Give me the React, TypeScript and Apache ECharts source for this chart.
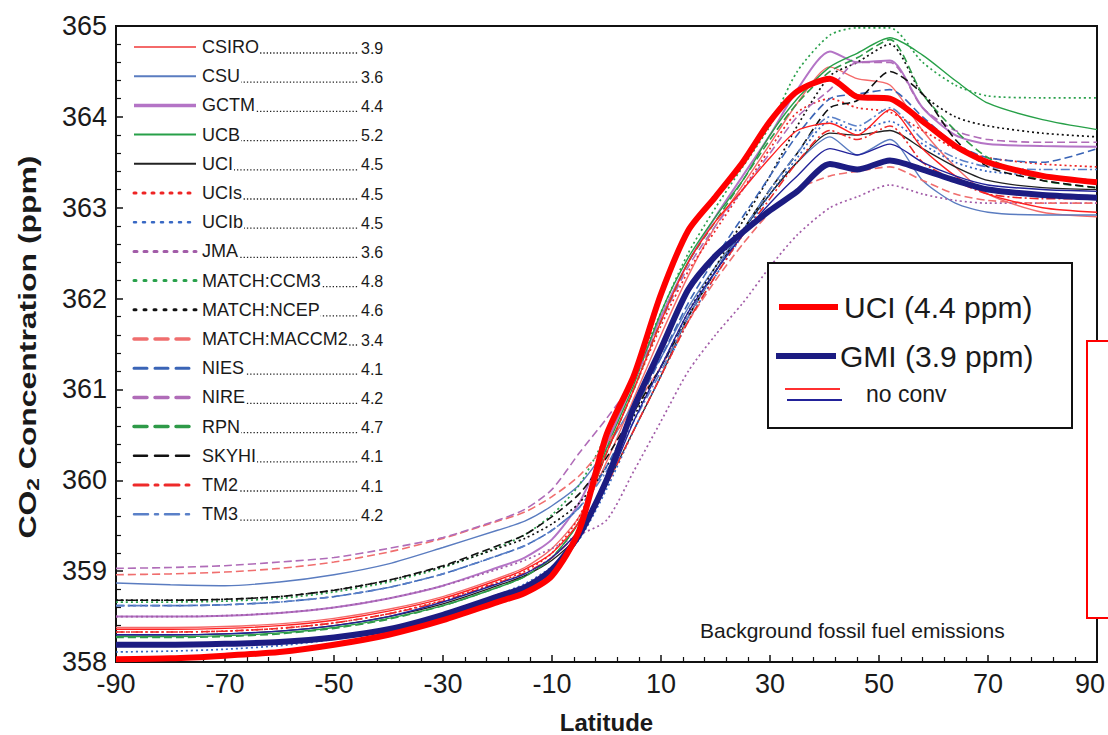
import React, { useEffect, useRef } from "react";
import * as echarts from "echarts";

// Latitude grid (degrees)
const lats = [-90, -80, -70, -60, -50, -40, -30, -20, -15, -10, -5, 0, 5, 10, 15, 20, 25, 30, 35, 41, 46, 52, 58, 64, 70, 80, 90];

// CO2 concentration (ppm) per model
const csiro = [358.38, 358.38, 358.39, 358.42, 358.48, 358.58, 358.72, 358.92, 359.04, 359.25, 359.6, 360.2, 360.9, 361.6, 362.25, 362.8, 363.25, 363.7, 364.15, 364.55, 364.42, 364.35, 363.85, 363.45, 363.15, 362.95, 362.9];
const csu = [358.87, 358.85, 358.84, 358.88, 358.96, 359.08, 359.26, 359.45, 359.55, 359.72, 359.95, 360.35, 360.85, 361.35, 361.9, 362.35, 362.75, 363.15, 363.5, 363.78, 363.58, 363.75, 363.3, 363.05, 362.95, 362.92, 362.92];
const gctm = [358.5, 358.5, 358.51, 358.54, 358.6, 358.7, 358.84, 359.04, 359.15, 359.35, 359.75, 360.4, 361.1, 361.8, 362.4, 362.9, 363.35, 363.8, 364.3, 364.72, 364.6, 364.62, 364.1, 363.8, 363.7, 363.68, 363.67];
const ucb = [358.28, 358.28, 358.29, 358.32, 358.38, 358.48, 358.62, 358.82, 358.94, 359.15, 359.55, 360.35, 361.05, 361.85, 362.45, 362.9, 363.3, 363.8, 364.2, 364.55, 364.7, 364.87, 364.68, 364.4, 364.15, 363.97, 363.86];
const uci = [358.3, 358.3, 358.31, 358.34, 358.4, 358.5, 358.64, 358.84, 358.95, 359.12, 359.4, 359.95, 360.55, 361.15, 361.8, 362.3, 362.75, 363.15, 363.5, 363.82, 363.8, 363.85, 363.65, 363.45, 363.3, 363.22, 363.2];
const ucis = [358.33, 358.33, 358.34, 358.37, 358.43, 358.53, 358.68, 358.88, 359.0, 359.2, 359.6, 360.3, 361.0, 361.7, 362.3, 362.75, 363.2, 363.65, 364.05, 364.2, 364.1, 364.05, 363.85, 363.65, 363.55, 363.48, 363.45];
const ucib = [358.11, 358.12, 358.14, 358.18, 358.25, 358.36, 358.52, 358.74, 358.86, 359.05, 359.35, 359.9, 360.55, 361.15, 361.75, 362.25, 362.7, 363.15, 363.55, 363.95, 363.85, 363.95, 363.7, 363.5, 363.4, 363.35, 363.3];
const jma = [358.5, 358.5, 358.51, 358.54, 358.6, 358.7, 358.84, 359.02, 359.12, 359.25, 359.4, 359.56, 360.1, 360.65, 361.2, 361.6, 361.95, 362.35, 362.7, 363.0, 363.12, 363.25, 363.15, 363.08, 363.05, 363.05, 363.05];
const matchCcm3 = [358.66, 358.66, 358.67, 358.7, 358.77, 358.88, 359.04, 359.26, 359.4, 359.62, 359.95, 360.5, 361.15, 361.85, 362.5, 363.0, 363.45, 363.9, 364.5, 364.9, 364.98, 364.98, 364.6, 364.35, 364.23, 364.21, 364.21];
const matchNcep = [358.68, 358.68, 358.69, 358.72, 358.79, 358.9, 359.05, 359.25, 359.36, 359.52, 359.75, 360.15, 360.7, 361.25, 361.85, 362.35, 362.85, 363.35, 363.9, 364.45, 364.6, 364.8, 364.25, 364.0, 363.9, 363.82, 363.78];
const matchMaccm2 = [358.96, 358.97, 358.99, 359.03, 359.1, 359.21, 359.36, 359.55, 359.65, 359.82, 360.05, 360.4, 360.8, 361.25, 361.75, 362.2, 362.6, 362.95, 363.2, 363.35, 363.4, 363.45, 363.3, 363.15, 363.08, 363.05, 363.05];
const nies = [358.62, 358.62, 358.63, 358.66, 358.72, 358.82, 358.97, 359.17, 359.28, 359.45, 359.7, 360.15, 360.75, 361.35, 361.95, 362.45, 362.9, 363.35, 363.8, 364.2, 364.25, 364.3, 364.0, 363.7, 363.55, 363.5, 363.65];
const nire = [359.03, 359.04, 359.06, 359.1, 359.15, 359.25, 359.37, 359.56, 359.68, 359.9, 360.3, 360.68, 361.1, 361.75, 362.35, 362.8, 363.2, 363.6, 364.0, 364.3, 364.6, 364.6, 364.1, 363.85, 363.75, 363.72, 363.72];
const rpn = [358.27, 358.27, 358.28, 358.31, 358.37, 358.47, 358.62, 358.82, 358.94, 359.15, 359.55, 360.3, 361.0, 361.75, 362.4, 362.85, 363.3, 363.75, 364.15, 364.5, 364.65, 364.85, 364.25, 363.85, 363.55, 363.3, 363.22];
const skyhi = [358.68, 358.68, 358.69, 358.72, 358.79, 358.9, 359.06, 359.28, 359.4, 359.6, 359.85, 360.25, 360.75, 361.25, 361.8, 362.3, 362.75, 363.2, 363.6, 364.1, 364.18, 364.5, 364.25, 363.75, 363.45, 363.3, 363.22];
const tm2 = [358.33, 358.33, 358.34, 358.37, 358.43, 358.53, 358.67, 358.87, 358.98, 359.15, 359.45, 359.95, 360.55, 361.15, 361.75, 362.25, 362.7, 363.1, 363.5, 363.85, 363.75, 363.9, 363.5, 363.3, 363.15, 363.1, 363.1];
const tm3 = [358.62, 358.62, 358.63, 358.66, 358.72, 358.82, 358.97, 359.17, 359.28, 359.45, 359.7, 360.1, 360.65, 361.2, 361.8, 362.3, 362.75, 363.2, 363.6, 364.0, 363.9, 364.1, 363.75, 363.55, 363.45, 363.42, 363.42];

// Highlighted runs
const uciMain = [358.03, 358.04, 358.07, 358.11, 358.19, 358.3, 358.46, 358.66, 358.76, 358.95, 359.45, 360.5, 361.15, 362.05, 362.75, 363.12, 363.5, 363.95, 364.28, 364.42, 364.22, 364.2, 363.95, 363.68, 363.5, 363.35, 363.28];
const gmiMain = [358.19, 358.19, 358.2, 358.22, 358.27, 358.36, 358.52, 358.72, 358.82, 359.02, 359.4, 360.0, 360.8, 361.45, 362.1, 362.47, 362.73, 362.97, 363.18, 363.48, 363.42, 363.52, 363.42, 363.3, 363.2, 363.14, 363.11];
const uciNoConv = [358.36, 358.36, 358.37, 358.4, 358.46, 358.56, 358.7, 358.9, 359.02, 359.2, 359.55, 360.3, 361.0, 361.75, 362.4, 362.85, 363.2, 363.55, 363.85, 363.93, 363.8, 364.08, 363.65, 363.35, 363.15, 363.0, 362.95];
const gmiNoConv = [358.3, 358.3, 358.31, 358.34, 358.4, 358.5, 358.66, 358.86, 358.97, 359.15, 359.45, 359.95, 360.65, 361.25, 361.85, 362.3, 362.7, 363.05, 363.35, 363.65, 363.58, 363.7, 363.5, 363.35, 363.25, 363.2, 363.18];

const modelNames = ["CSIRO", "CSU", "GCTM", "UCB", "UCI", "UCIs", "UCIb", "JMA", "MATCH:CCM3", "MATCH:NCEP", "MATCH:MACCM2", "NIES", "NIRE", "RPN", "SKYHI", "TM2", "TM3"];
const modelValues = ["3.9", "3.6", "4.4", "5.2", "4.5", "4.5", "4.5", "3.6", "4.8", "4.6", "3.4", "4.1", "4.2", "4.7", "4.1", "4.1", "4.2"];
const modelData = [csiro, csu, gctm, ucb, uci, ucis, ucib, jma, matchCcm3, matchNcep, matchMaccm2, nies, nire, rpn, skyhi, tm2, tm3];

const yTicks = [358, 359, 360, 361, 362, 363, 364, 365];
const xTickLabels = [-90, -70, -50, -30, -10, 10, 30, 50, 70, 90];

const DOT = [2, 3];
const DASH = [8, 4];
const DASHDOT = [9, 3, 2, 3];
const modelStyles = [
  { color: "#f46a6a", dash: "solid", w: 1.4, lw: 2 },
  { color: "#5a7cc0", dash: "solid", w: 1.4, lw: 2 },
  { color: "#b474c6", dash: "solid", w: 2, lw: 3.5 },
  { color: "#27a048", dash: "solid", w: 1.4, lw: 2 },
  { color: "#222222", dash: "solid", w: 1.3, lw: 2 },
  { color: "#ee2424", dash: DOT, w: 1.7, lw: 3, ld: [2, 7] },
  { color: "#3868c4", dash: DOT, w: 1.7, lw: 2.5, ld: [2, 7] },
  { color: "#a25ca8", dash: DOT, w: 1.7, lw: 3, ld: [3, 7] },
  { color: "#2aa14c", dash: DOT, w: 1.7, lw: 3, ld: [2, 8] },
  { color: "#111111", dash: DOT, w: 1.7, lw: 3, ld: [2, 8] },
  { color: "#f06e6e", dash: DASH, w: 1.6, lw: 3.5, ld: [13, 8] },
  { color: "#3a64b6", dash: DASH, w: 1.6, lw: 3, ld: [13, 8] },
  { color: "#b06cb8", dash: DASH, w: 1.6, lw: 3.5, ld: [13, 8] },
  { color: "#2e9a48", dash: DASH, w: 1.6, lw: 3.5, ld: [13, 8] },
  { color: "#111111", dash: DASH, w: 1.6, lw: 2.5, ld: [13, 8] },
  { color: "#ee2a2a", dash: DASHDOT, w: 1.6, lw: 3, ld: [14, 7, 3, 7] },
  { color: "#5a80c8", dash: DASHDOT, w: 1.6, lw: 2.5, ld: [14, 7, 3, 7] },
];

const FONT = "'Liberation Sans', Arial, Helvetica, sans-serif";

function toPairs(vals: number[]) {
  return lats.map((lat, i) => [lat, vals[i]]);
}

export default function App() {
  const ref = useRef<HTMLDivElement>(null);
  useEffect(() => {
    if (!ref.current) return;
    const chart = echarts.init(ref.current, null, { renderer: "svg" });

    const SMOOTH = 0.25;
    const series: any[] = modelNames.map((name, i) => ({
      name,
      type: "line",
      data: toPairs(modelData[i]),
      showSymbol: false,
      symbol: "none",
      smooth: SMOOTH,
      z: 2,
      lineStyle: { color: modelStyles[i].color, width: modelStyles[i].w, type: modelStyles[i].dash },
    }));
    series.push(
      { name: "UCI no conv", type: "line", data: toPairs(uciNoConv), symbol: "none", smooth: SMOOTH, z: 3, lineStyle: { color: "#ff2020", width: 1.4 } },
      { name: "GMI no conv", type: "line", data: toPairs(gmiNoConv), symbol: "none", smooth: SMOOTH, z: 3, lineStyle: { color: "#22229a", width: 1.4 } },
      { name: "GMI (3.9 ppm)", type: "line", data: toPairs(gmiMain), symbol: "none", smooth: SMOOTH, z: 4, lineStyle: { color: "#1c1c82", width: 6 } },
      { name: "UCI (4.4 ppm)", type: "line", data: toPairs(uciMain), symbol: "none", smooth: SMOOTH, z: 5, lineStyle: { color: "#ff0000", width: 6 } }
    );

    const graphics: any[] = [];
    const rowY0 = 47;
    const rowH = 29.2;
    modelNames.forEach((name, i) => {
      const y = rowY0 + i * rowH;
      const st = modelStyles[i];
      graphics.push({
        type: "line",
        z: 10,
        shape: { x1: 134, y1: y, x2: 196, y2: y },
        style: { stroke: st.color, lineWidth: st.lw, lineDash: st.ld || null, lineCap: st.ld ? "round" : "butt" },
      });
      graphics.push({
        type: "line",
        z: 10,
        shape: { x1: 204, y1: y + 6, x2: 358, y2: y + 6 },
        style: { stroke: "#222", lineWidth: 1.3, lineDash: [1.3, 2] },
      });
      graphics.push({
        type: "text",
        z: 11,
        x: 202,
        y,
        style: { text: name, font: `18px ${FONT}`, fill: "#1a1a1a", textVerticalAlign: "middle", backgroundColor: "#fff", padding: [0, 1, 0, 0] },
      });
      graphics.push({
        type: "text",
        z: 11,
        x: 361,
        y: y + 1,
        style: { text: modelValues[i], font: `16px ${FONT}`, fill: "#1a1a1a", textVerticalAlign: "middle" },
      });
    });

    // Y-axis title, stretched along its length like the reference
    graphics.push({
      type: "text",
      z: 12,
      x: 28,
      y: 347,
      rotation: Math.PI / 2,
      scaleX: 1.33,
      scaleY: 1,
      style: {
        text: "{a|CO}{s|2}{a| Concentration (ppm)}",
        textAlign: "center",
        textVerticalAlign: "middle",
        rich: {
          a: { fontFamily: FONT, fontSize: 24, fontWeight: "bold", fill: "#1a1a1a", color: "#1a1a1a" },
          s: { fontFamily: FONT, fontSize: 17, fontWeight: "bold", fill: "#1a1a1a", color: "#1a1a1a", padding: [10, 0, 0, 0] },
        },
      },
    });

    // Highlight legend box
    graphics.push(
      { type: "rect", z: 20, shape: { x: 768, y: 263, width: 304, height: 165 }, style: { fill: "#fff", stroke: "#111", lineWidth: 2 } },
      { type: "line", z: 21, shape: { x1: 779, y1: 307, x2: 838, y2: 307 }, style: { stroke: "#ff0000", lineWidth: 6 } },
      { type: "text", z: 21, x: 844, y: 307, style: { text: "UCI (4.4 ppm)", font: `30px ${FONT}`, fill: "#1a1a1a", textVerticalAlign: "middle" } },
      { type: "line", z: 21, shape: { x1: 776, y1: 356, x2: 836, y2: 356 }, style: { stroke: "#1c1c82", lineWidth: 6 } },
      { type: "text", z: 21, x: 840, y: 356, style: { text: "GMI (3.9 ppm)", font: `30px ${FONT}`, fill: "#1a1a1a", textVerticalAlign: "middle" } },
      { type: "line", z: 21, shape: { x1: 785, y1: 389, x2: 840, y2: 389 }, style: { stroke: "#ff3030", lineWidth: 2 } },
      { type: "line", z: 21, shape: { x1: 787, y1: 400, x2: 842, y2: 400 }, style: { stroke: "#22229a", lineWidth: 2 } },
      { type: "text", z: 21, x: 866, y: 394, style: { text: "no conv", font: `23px ${FONT}`, fill: "#1a1a1a", textVerticalAlign: "middle" } },
      { type: "text", z: 21, x: 700, y: 630, style: { text: "Background fossil fuel emissions", font: `21px ${FONT}`, fill: "#1a1a1a", textVerticalAlign: "middle" } },
      { type: "rect", z: 22, shape: { x: 1087, y: 341, width: 40, height: 277 }, style: { fill: "#fff", stroke: "#ff0000", lineWidth: 2 } }
    );

    chart.setOption({
      animation: false,
      backgroundColor: "#ffffff",
      grid: { left: 116, right: 11, top: 26, bottom: 73, show: true, borderColor: "#111", borderWidth: 2, backgroundColor: "transparent", outerBoundsMode: "none", containLabel: false },
      xAxis: {
        type: "value",
        min: -90,
        max: 90,
        interval: 20,
        name: "Latitude",
        nameLocation: "middle",
        nameGap: 48,
        nameTextStyle: { fontFamily: FONT, fontSize: 24, fontWeight: "bold", color: "#1a1a1a" },
        axisLine: { show: true, onZero: false, lineStyle: { color: "#111", width: 2 } },
        axisTick: { show: true, inside: true, length: 7, lineStyle: { color: "#111", width: 1.5 } },
        minorTick: { show: true, splitNumber: 5, length: 5, lineStyle: { color: "#111", width: 1.2 } },
        splitLine: { show: false },
        axisLabel: {
          fontFamily: FONT,
          fontSize: 27,
          color: "#1a1a1a",
          margin: 8,
          formatter: (v: number) => (v === 90 ? "{r|90}" : xTickLabels.includes(v) ? String(v) : ""),
          rich: { r: { fontFamily: FONT, fontSize: 27, color: "#1a1a1a", padding: [0, 14, 0, 0] } },
        },
      },
      yAxis: {
        type: "value",
        min: 358,
        max: 365,
        interval: 1,
        axisLine: { show: true, onZero: false, lineStyle: { color: "#111", width: 2 } },
        axisTick: { show: true, inside: true, length: 7, lineStyle: { color: "#111", width: 1.5 } },
        minorTick: { show: true, splitNumber: 5, length: 5, lineStyle: { color: "#111", width: 1.2 } },
        splitLine: { show: false },
        axisLabel: {
          fontFamily: FONT,
          fontSize: 27,
          color: "#1a1a1a",
          margin: 9,
          formatter: (v: number) => (yTicks.includes(v) ? String(v) : ""),
        },
      },
      series,
      graphic: graphics,
    });
    return () => chart.dispose();
  }, []);
  return <div ref={ref} style={{ position: "fixed", left: 0, top: 0, width: 1108, height: 735 }} />;
}
